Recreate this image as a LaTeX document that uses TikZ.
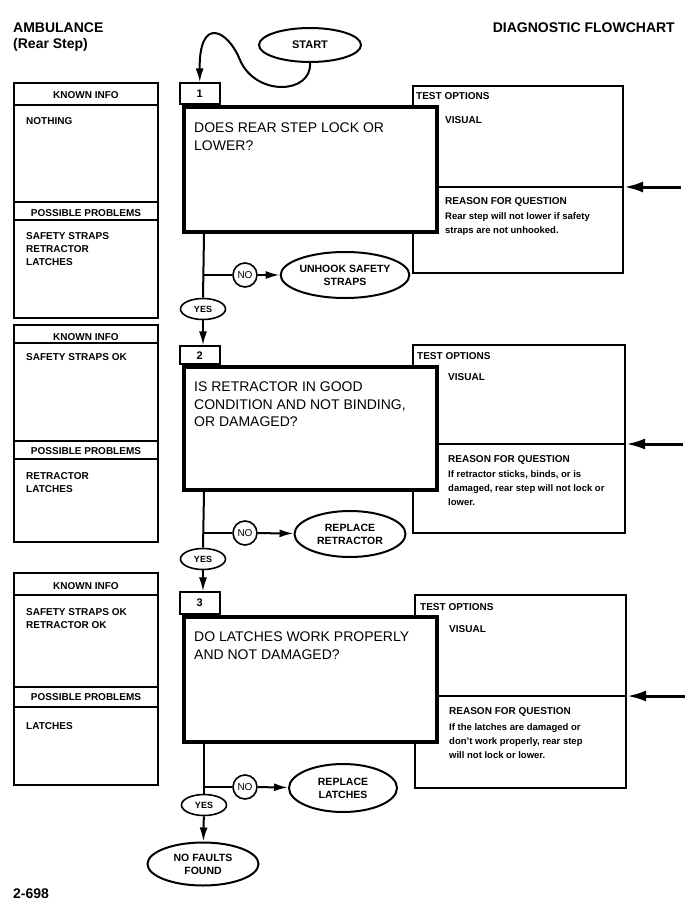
\documentclass[tikz,border=0pt]{standalone}
\usepackage{fontspec}
\setmainfont{Liberation Sans}
\usetikzlibrary{shapes.geometric, arrows.meta}

\tikzset{
  panel/.style={line width=1.6pt},
  qbox/.style={draw, line width=4.2pt, fill=white, anchor=north west, inner sep=0},
  tabbox/.style={draw, line width=1.6pt, fill=white, anchor=south west, minimum width=40pt, inner sep=0, font=\bfseries\fontsize{11}{11}\selectfont},
  oval/.style={draw, ellipse, line width=2pt, fill=white, inner sep=0, align=center, font=\bfseries\fontsize{10.5}{13}\selectfont},
  nocirc/.style={draw, circle, line width=1.6pt, minimum size=24pt, inner sep=0, font=\fontsize{10}{10}\selectfont},
  yesoval/.style={draw, ellipse, line width=1.6pt, minimum width=45pt, minimum height=21pt, inner sep=0, font=\bfseries\fontsize{9}{9}\selectfont},
  flow/.style={line width=2pt},
  flowarrow/.style={flow, -{Latex[length=14pt, width=8pt]}},
  sidearrow/.style={line width=3pt, -{Latex[length=19pt, width=11pt]}},
  head/.style={font=\bfseries\fontsize{10}{10}\selectfont, inner sep=0, anchor=north},
  item/.style={font=\bfseries\fontsize{10}{13}\selectfont, inner sep=0, anchor=north west, align=left},
  question/.style={font=\fontsize{14}{17.5}\selectfont, inner sep=0, anchor=north west, align=left},
  reason/.style={font=\bfseries\fontsize{9.5}{14}\selectfont, inner sep=0, anchor=north west, align=left}
}

\begin{document}
\begin{tikzpicture}[x=1pt, y=-1pt]
    \useasboundingbox (0,0) rectangle (698,902);

    % titles
    \node[anchor=north west, inner sep=0, align=left, font=\bfseries\fontsize{14}{16}\selectfont] (title) at (13,23) {AMBULANCE\\(Rear Step)};
    \node[anchor=north east, inner sep=0, font=\bfseries\fontsize{14}{16}\selectfont] (chart) at (675,23) {DIAGNOSTIC FLOWCHART};
    \node[anchor=north west, inner sep=0, font=\bfseries\fontsize{14}{16}\selectfont] (page) at (13,889) {2-698};

    \node[oval, minimum width=102pt, minimum height=34pt, font=\bfseries\fontsize{11}{11}\selectfont] (start) at (310,45) {START};

    % --- step 1 ---
    \draw[panel] (14,83) rectangle (158,318) (14,105) -- (158,105) (14,202) -- (158,202) (14,220) -- (158,220);
    \node[head] (known1) at (86,91) {KNOWN INFO};
    \node[item] (info1) at (26,117) {NOTHING};
    \node[head] (poss1) at (86,209) {POSSIBLE PROBLEMS};
    \node[item] (prob1) at (26,232) {SAFETY STRAPS\\RETRACTOR\\LATCHES};

    \draw[panel] (413,86) rectangle (623,273) (413,187) -- (623,187);
    \node[tabbox, minimum height=21pt] (t1) at (179,105) {1};
    \node[qbox, minimum width=253pt, minimum height=125pt] (q1) at (182,105) {};
    \node[question] (qt1) at (194,123) {DOES REAR STEP LOCK OR\\LOWER?};
    \node[item] (test1) at (416,92) {TEST OPTIONS};
    \node[item] (vis1) at (445,116) {VISUAL};
    \node[item] (why1) at (445,197) {REASON FOR QUESTION};
    \node[reason] (txt1) at (445,212) {Rear step will not lower if safety\\straps are not unhooked.};

    \coordinate (in1) at (681,187);
    \coordinate (c1) at (624,187);
    \draw[sidearrow] (in1) -- (c1);

    \draw[flowarrow] (start.south) .. controls (312,94) and (256,97) .. (240,60) .. controls (228,30) and (199,15) .. (t1.north);

    \node[nocirc] (no1) at (245,275) {NO};
    \node[oval, minimum width=113pt, minimum height=46pt] (fix1) at (345,275) {UNHOOK SAFETY\\STRAPS};
    \node[yesoval] (yes1) at (203,309) {YES};
    \coordinate (b1) at (204,275);
    \draw[flow] (q1.south -| b1) -- (yes1.north);
    \draw[flow] (b1) -- (no1);
    \draw[flowarrow] (no1) -- (fix1);

    % --- step 2 ---
    \draw[panel] (14,325) rectangle (158,542) (14,343) -- (158,343) (14,441) -- (158,441) (14,459) -- (158,459);
    \node[head] (known2) at (86,333) {KNOWN INFO};
    \node[item] (info2) at (26,353) {SAFETY STRAPS OK};
    \node[head] (poss2) at (86,447) {POSSIBLE PROBLEMS};
    \node[item] (prob2) at (26,472) {RETRACTOR\\LATCHES};

    \draw[panel] (413,345) rectangle (625,533) (413,444) -- (625,444);
    \node[tabbox, minimum height=18pt] (t2) at (179,365) {2};
    \node[qbox, minimum width=253pt, minimum height=123pt] (q2) at (182,365) {};
    \node[question] (qt2) at (194,382) {IS RETRACTOR IN GOOD\\CONDITION AND NOT BINDING,\\OR DAMAGED?};
    \node[item] (test2) at (417,352) {TEST OPTIONS};
    \node[item] (vis2) at (448,373) {VISUAL};
    \node[item] (why2) at (448,455) {REASON FOR QUESTION};
    \node[reason] (txt2) at (448,470) {If retractor sticks, binds, or is\\damaged, rear step will not lock or\\lower.};

    \coordinate (in2) at (683,444);
    \coordinate (c2) at (626,444);
    \draw[sidearrow] (in2) -- (c2);
    \draw[flowarrow] (yes1) -- (yes1.south |- t2.north);

    \node[nocirc] (no2) at (245,533) {NO};
    \node[oval, minimum width=111pt, minimum height=46pt] (fix2) at (350,534) {REPLACE\\RETRACTOR};
    \node[yesoval] (yes2) at (203,559) {YES};
    \coordinate (b2) at (204,533);
    \draw[flow] (q2.south -| b2) -- (yes2.north);
    \draw[flow] (b2) -- (no2);
    \draw[flowarrow] (no2) -- (fix2);

    % --- step 3 ---
    \draw[panel] (14,573) rectangle (158,785) (14,595) -- (158,595) (14,687) -- (158,687) (14,707) -- (158,707);
    \node[head] (known3) at (86,582) {KNOWN INFO};
    \node[item] (info3) at (26,608) {SAFETY STRAPS OK\\RETRACTOR OK};
    \node[head] (poss3) at (86,693) {POSSIBLE PROBLEMS};
    \node[item] (prob3) at (26,722) {LATCHES};

    \draw[panel] (415,595) rectangle (626,788) (415,696) -- (626,696);
    \node[tabbox, minimum height=22pt] (t3) at (179,615) {3};
    \node[qbox, minimum width=253pt, minimum height=125pt] (q3) at (182,615) {};
    \node[question] (qt3) at (194,632) {DO LATCHES WORK PROPERLY\\AND NOT DAMAGED?};
    \node[item] (test3) at (420,603) {TEST OPTIONS};
    \node[item] (vis3) at (449,625) {VISUAL};
    \node[item] (why3) at (449,707) {REASON FOR QUESTION};
    \node[reason] (txt3) at (449,723) {If the latches are damaged or\\don't work properly, rear step\\will not lock or lower.};

    \coordinate (in3) at (685,696);
    \coordinate (c3) at (627,696);
    \draw[sidearrow] (in3) -- (c3);
    \draw[flowarrow] (yes2) -- (yes2.south |- t3.north);

    \node[nocirc] (no3) at (245,787) {NO};
    \node[oval, minimum width=108pt, minimum height=48pt] (fix3) at (343,788) {REPLACE\\LATCHES};
    \node[yesoval] (yes3) at (204,805) {YES};
    \coordinate (b3) at (204,787);
    \draw[flow] (q3.south -| b3) -- (yes3.north);
    \draw[flow] (b3) -- (no3);
    \draw[flowarrow] (no3) -- (fix3);

    \node[oval, minimum width=111pt, minimum height=43pt] (done) at (203,864) {NO FAULTS\\FOUND};
    \draw[flowarrow] (yes3) -- (done);

\end{tikzpicture}
\end{document}
